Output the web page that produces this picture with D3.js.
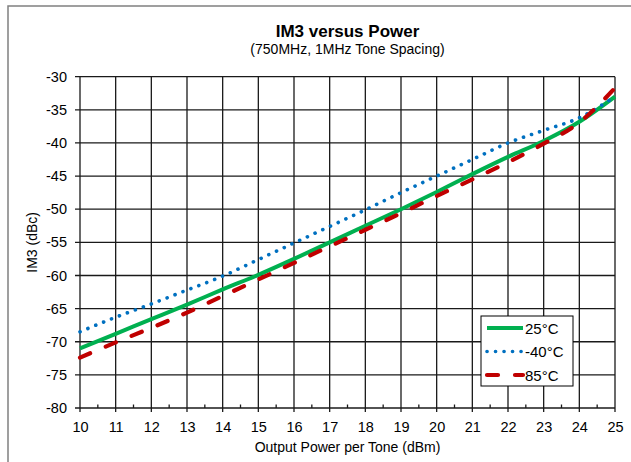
<!DOCTYPE html>
<html>
<head>
<meta charset="utf-8">
<script src="https://cdn.jsdelivr.net/npm/d3@7"></script>
<style>
  body { margin: 0; background: #fff; }
  svg text { font-family: "Liberation Sans", Arial, sans-serif; fill: #000; }
</style>
</head>
<body>
<div id="chart"></div>
<script>
var W = 631, H = 462;
var margin = {left: 80, right: 16, top: 76.7, bottom: 54};

// output power per tone (dBm)
var power = [10, 11, 12, 13, 14, 15, 16, 17, 18, 19, 20, 21, 22, 23, 24, 25];
// IM3 (dBc) per temperature
var im3_25 = [-71, -68.8, -66.6, -64.4, -62.1, -59.9, -57.5, -55, -52.5, -50, -47.4, -44.7, -42.1, -39.7, -36.8, -33];
var im3_m40 = [-68.5, -66.3, -64.3, -62.2, -60.1, -57.6, -55.1, -52.6, -50.1, -47.5, -45, -42.5, -40, -38.1, -36.2, -33];
var im3_85 = [-72.4, -70.1, -67.9, -65.6, -63.1, -60.6, -58.1, -55.6, -53.1, -50.6, -48, -45.5, -42.9, -40.1, -36.9, -31.7];

var xTicks = d3.range(10, 26, 1);
var xMinor = d3.range(10.5, 25, 1);
var yTicks = d3.range(-80, -29, 5);

var series = [
  {name: "25°C", values: im3_25, color: "#00b050", width: 4, dash: null, cap: "butt"},
  {name: "-40°C", values: im3_m40, color: "#0070c0", width: 3.6, dash: "0.1,8.4", cap: "round"},
  {name: "85°C", values: im3_85, color: "#c00000", width: 4.2, dash: "11,17", cap: "round"}
];

var svg = d3.select("#chart").append("svg")
  .attr("width", W)
  .attr("height", H)

// outer frame (cut off at right/bottom)
svg.append("rect")
  .attr("x", 8).attr("y", 6)
  .attr("width", 700).attr("height", 600)
  .attr("fill", "none")
  .attr("stroke", "#808080")
  .attr("stroke-width", 1.5)

var x = d3.scaleLinear().domain([10, 25]).range([margin.left, W - margin.right]);
var y = d3.scaleLinear().domain([-80, -30]).range([H - margin.bottom, margin.top]);

// plain hyphen labels, like the original
var plain = function(d){ return String(d); };

svg.append("text")
  .attr("x", (x(10) + x(25)) / 2)
  .attr("y", 36.5)
  .attr("text-anchor", "middle")
  .style("font-size", "17px")
  .style("font-weight", "bold")
  .text("IM3 versus Power")

svg.append("text")
  .attr("x", (x(10) + x(25)) / 2)
  .attr("y", 54)
  .attr("text-anchor", "middle")
  .style("font-size", "14px")
  .text("(750MHz, 1MHz Tone Spacing)")

// grid
var grid = svg.append("g").attr("stroke", "#1a1a1a").attr("stroke-width", 1.3);
xTicks.forEach(function(t){
  grid.append("line")
    .attr("x1", x(t)).attr("x2", x(t))
    .attr("y1", y(-30)).attr("y2", y(-80) + 4)
});
yTicks.forEach(function(t){
  grid.append("line")
    .attr("x1", x(10) - 5).attr("x2", x(25))
    .attr("y1", y(t)).attr("y2", y(t))
});
xMinor.forEach(function(t){
  grid.append("line")
    .attr("x1", x(t)).attr("x2", x(t))
    .attr("y1", y(-80)).attr("y2", y(-80) - 3.5)
});

// axes labels via d3 axes (lines hidden)
var xAxis = svg.append("g")
  .attr("transform", "translate(0," + y(-80) + ")")
  .call(d3.axisBottom(x).tickValues(xTicks).tickSize(0).tickPadding(14).tickFormat(plain))
xAxis.select(".domain").remove();
xAxis.selectAll("text").style("font-size", "14.5px").attr("fill", "#000");

var yAxis = svg.append("g")
  .attr("transform", "translate(" + x(10) + ",0)")
  .call(d3.axisLeft(y).tickValues(yTicks).tickSize(0).tickPadding(13).tickFormat(plain))
yAxis.select(".domain").remove();
yAxis.selectAll("text").style("font-size", "14.5px").attr("fill", "#000");

svg.append("text")
  .attr("x", (x(10) + x(25)) / 2)
  .attr("y", 452)
  .attr("text-anchor", "middle")
  .style("font-size", "14px")
  .text("Output Power per Tone (dBm)")

svg.append("text")
  .attr("transform", "translate(37," + ((y(-30) + y(-80)) / 2) + ") rotate(-90)")
  .attr("text-anchor", "middle")
  .style("font-size", "14px")
  .text("IM3 (dBc)")

// lines
var line = d3.line()
  .x(function(d){ return x(d[0]); })
  .y(function(d){ return y(d[1]); })
  .curve(d3.curveMonotoneX);

series.forEach(function(s){
  svg.append("path")
    .datum(power.map(function(p, i){ return [p, s.values[i]]; }))
    .attr("d", line)
    .attr("fill", "none")
    .attr("stroke", s.color)
    .attr("stroke-width", s.width)
    .attr("stroke-dasharray", s.dash)
    .attr("stroke-linecap", s.cap)
});

// legend
var legend = svg.append("g").attr("transform", "translate(481,316)");
legend.append("rect")
  .attr("width", 92).attr("height", 70)
  .attr("fill", "#fff")
  .attr("stroke", "#000")
  .attr("stroke-width", 1)
series.forEach(function(s, i){
  var ly = 12 + i * 23.5;
  legend.append("line")
    .attr("x1", 6).attr("x2", 42)
    .attr("y1", ly).attr("y2", ly)
    .attr("stroke", s.color)
    .attr("stroke-width", s.width)
    .attr("stroke-dasharray", s.dash)
    .attr("stroke-linecap", s.cap)
  legend.append("text")
    .attr("x", 44)
    .attr("y", ly + 5.5)
    .style("font-size", "15px")
    .text(s.name)
});
</script>
</body>
</html>
